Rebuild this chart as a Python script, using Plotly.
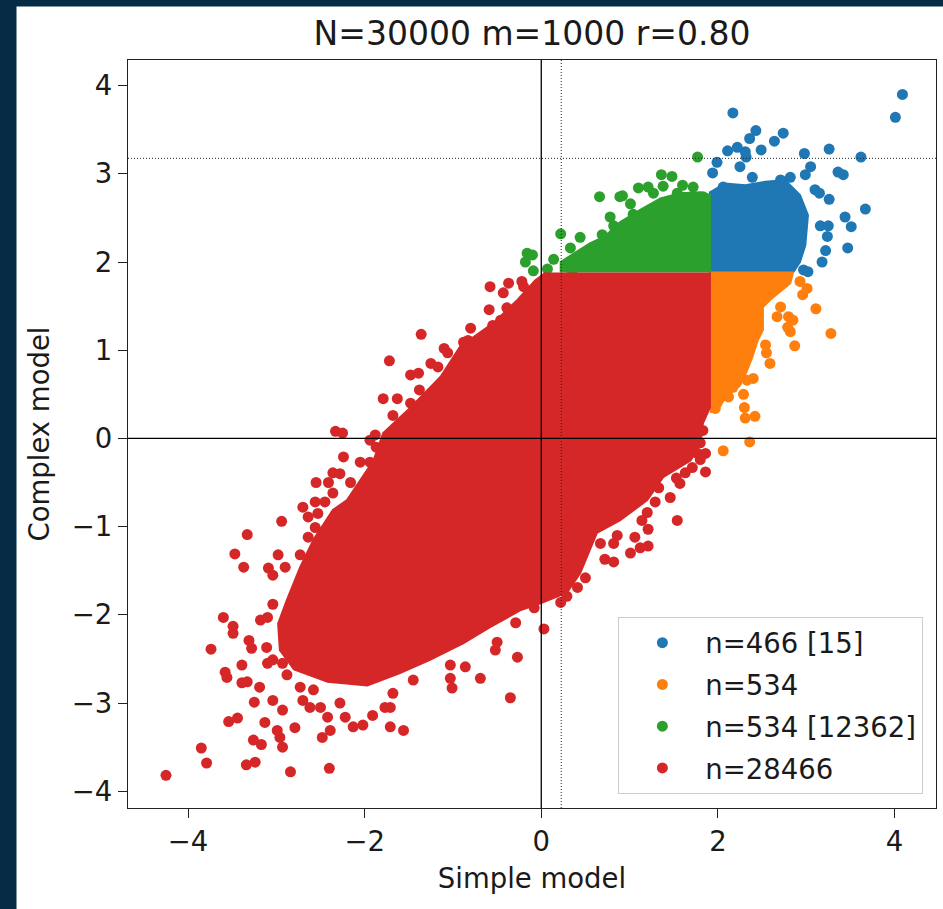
import plotly.graph_objects as go

# ---------------- data ----------------
title_text = "N=30000 m=1000 r=0.80"
x_label = "Simple model"
y_label = "Complex model"
legend_labels = ["n=466 [15]", "n=534", "n=534 [12362]", "n=28466"]
colors = ["#1f77b4", "#ff7f0e", "#2ca02c", "#d62728"]
x_threshold = 1.91
y_threshold = 1.88
x_dotted = 0.226
y_dotted = 3.175
x_ticks = [-4, -2, 0, 2, 4]
y_ticks = [-4, -3, -2, -1, 0, 1, 2, 3, 4]

# dense cores of each group (outline of the solid mass of points)
blue_core_x = [1.91, 1.91, 2.08, 2.31, 2.54, 2.76, 2.93, 3.02, 2.99, 2.93, 2.85]
blue_core_y = [1.88, 2.79, 2.89, 2.87, 2.91, 2.93, 2.76, 2.53, 2.19, 2.00, 1.88]

orange_core_x = [1.91, 2.85, 2.82, 2.59, 2.51, 2.51, 2.45, 2.39, 2.31, 2.25, 2.11, 2.03, 1.99, 1.91]
orange_core_y = [1.88, 1.88, 1.76, 1.57, 1.49, 1.23, 1.11, 0.92, 0.72, 0.60, 0.49, 0.38, 0.30, 0.30]

green_core_x = [0.22, 0.22, 0.39, 0.55, 0.72, 0.89, 1.12, 1.35, 1.57, 1.80, 1.91, 1.91]
green_core_y = [1.88, 2.00, 2.11, 2.21, 2.29, 2.45, 2.59, 2.72, 2.78, 2.79, 2.76, 1.88]

red_core_x = [1.91, 1.91, 1.83, 1.80, 1.69, 1.38, 1.20, 0.89, 0.63, 0.44, 0.29, -0.01,
              -0.24, -0.58, -0.88, -1.26, -1.60, -1.97, -2.42, -2.80, -2.96, -2.98,
              -2.88, -2.73, -2.58, -2.36, -2.20, -1.90, -1.79, -1.48, -1.14, -0.92, -0.54,
              -0.27, -0.07, 0.05]
red_core_y = [1.88, 0.35, 0.17, -0.08, -0.25, -0.44, -0.70, -0.93, -1.07, -1.53, -1.75, -1.87,
              -1.95, -2.14, -2.32, -2.51, -2.66, -2.80, -2.76, -2.62, -2.40, -2.10,
              -1.83, -1.46, -1.15, -0.81, -0.70, -0.25, 0.06, 0.35, 0.70, 1.04, 1.31,
              1.57, 1.79, 1.88]

# individual points outside the dense cores
blue_x = [4.09, 4.01, 2.17, 2.43, 2.36, 2.64, 2.74, 2.22, 2.31, 2.32, 2.11, 2.49, 2.98, 3.26,
          3.62, 1.99, 3.05, 2.99, 2.25, 2.39, 3.36, 3.42, 3.26, 3.67, 3.44, 3.51, 3.47, 3.24,
          3.16, 3.25, 3.22, 3.18, 3.10, 3.15, 2.97, 3.02, 1.94, 2.06, 2.82, 2.71]
blue_y = [3.90, 3.64, 3.69, 3.49, 3.40, 3.37, 3.46, 3.30, 3.25, 3.19, 3.26, 3.27, 3.23, 3.28,
          3.19, 3.13, 3.08, 2.99, 3.08, 2.96, 3.02, 2.99, 2.71, 2.60, 2.51, 2.40, 2.16, 2.29,
          2.41, 2.41, 2.13, 2.00, 2.82, 2.78, 1.91, 1.89, 3.01, 2.85, 2.96, 2.93]

orange_x = [3.11, 3.28, 2.87, 2.93, 3.01, 2.96, 2.80, 2.79, 2.82, 2.67, 2.54, 2.55, 2.59, 2.40,
            2.33, 2.29, 2.30, 2.31, 2.42, 2.06, 2.36, 2.12, 2.17, 1.97, 1.99, 2.71, 2.85]
orange_y = [1.47, 1.19, 1.05, 1.78, 1.70, 1.63, 1.38, 1.26, 1.21, 1.38, 1.06, 0.97, 0.85, 0.68,
            0.66, 0.50, 0.35, 0.23, 0.25, -0.14, -0.04, 0.47, 0.58, 0.34, 0.40, 1.49, 1.34]

green_x = [1.77, 1.36, 1.48, 1.10, 1.21, 1.38, 1.60, 1.72, 0.92, 1.01, 1.04, 1.27, 1.54, 1.83,
           0.22, 0.66, 0.89, 0.78, 0.82, 0.44, 0.69, 0.33, -0.18, -0.10, 0.14, -0.09, 0.07,
           0.35, -0.16]
green_y = [3.19, 2.99, 2.97, 2.84, 2.85, 2.86, 2.87, 2.85, 2.75, 2.66, 2.54, 2.78, 2.78, 2.74,
           2.32, 2.74, 2.74, 2.51, 2.41, 2.28, 2.31, 2.16, 2.00, 2.08, 2.03, 1.90, 1.92,
           1.89, 2.10]

red_x = [-2.94, -3.33, -3.47, -3.37, -3.09, -3.04, -2.98, -2.90, -3.04, -3.60, -3.49, -3.49,
         -3.74, -3.31, -3.28, -3.18, -3.10, -3.11, -3.39, -3.58, -3.56, -3.39, -3.33, -3.19,
         -3.25, -3.04, -3.54, -3.44, -3.13, -3.26, -3.17, -2.93, -3.85, -3.79, -3.34, -3.24,
         -2.84, -2.40, -4.25, -2.99, -2.96, -2.79, -2.93, -2.70, -2.62, -2.50, -2.48, -2.39,
         -2.42, -2.22, -2.13, -2.02, -1.91, -1.71, -1.77, -2.28, -2.88, -2.73, -2.58, -3.10,
         -3.04, -2.93, -1.68, -1.71, -1.56,
         -1.72, -1.79, -1.63, -1.68, -2.33, -2.25, -1.88, -1.94, -1.87, -1.73, -2.24, -2.05,
         -1.94, -2.55, -2.36, -2.28, -2.41, -2.16, -2.36, -2.56, -2.45, -2.70, -2.64, -2.53,
         -2.64, -2.56, -2.33, -2.73,
         -0.58, -0.37, -0.43, -0.22, -0.20, -0.59, -0.80, -1.36, -1.10, -1.06, -0.88, -0.83,
         -0.67, -1.48, -1.39, -1.25, -1.17, -1.38, -1.22, -1.48, -0.55, -0.39, -0.46,
         1.86, 1.54, 1.46, 1.33, 1.29, 1.20, 1.14, 1.21, 1.06, 1.21, 1.12, 1.01, 0.82, 0.72,
         0.67, 0.82, 0.86, 0.50, 0.41, 0.29, 0.22, 0.03, -0.08, -0.29, -0.27, -0.50, -0.52,
         -0.69, -0.35, -0.86, -1.03, -1.03, -1.01, -1.40, -1.45, 1.71, 1.63, 1.53, 1.57, 1.77,
         1.83, 1.80, 1.86, 1.80]
red_y = [-0.94, -1.09, -1.31, -1.46, -1.47, -1.55, -1.32, -1.46, -1.88, -2.03, -2.13, -2.21,
         -2.39, -2.29, -2.38, -2.06, -2.03, -2.37, -2.57, -2.65, -2.71, -2.77, -2.76, -2.82,
         -2.99, -2.97, -3.21, -3.17, -3.22, -3.42, -3.47, -3.50, -3.51, -3.68, -3.70, -3.67,
         -3.78, -3.74, -3.82, -3.31, -3.39, -3.28, -3.08, -2.97, -3.05, -3.05, -3.39, -3.31,
         -3.16, -3.16, -3.27, -3.25, -3.14, -3.27, -3.05, -3.00, -2.68, -2.82, -2.85, -2.55,
         -2.51, -2.55, -2.89, -3.05, -3.31,
         0.88, 0.45, 0.45, 0.26, 0.08, 0.06, 0.04, -0.02, -0.10, 0.00, -0.21, -0.27,
         -0.27, -0.50, -0.39, -0.40, -0.50, -0.50, -0.62, -0.72, -0.72, -0.78, -0.89, -0.85,
         -1.12, -1.01, -1.01, -1.32,
         1.72, 1.76, 1.65, 1.78, 1.72, 1.46, 1.25, 1.18, 1.02, 0.97, 1.09, 1.11,
         1.10, 0.72, 0.74, 0.85, 0.81, 0.55, 0.54, 0.40, 1.28, 1.48, 1.34,
         -0.38, -0.93, -0.67, -0.56, -0.72, -0.84, -0.93, -1.03, -1.12, -1.22, -1.24, -1.30,
         -1.40, -1.37, -1.19, -1.19, -1.10, -1.58, -1.69, -1.79, -1.86, -2.16, -1.92, -2.09,
         -2.48, -2.31, -2.40, -2.72, -2.94, -2.59, -2.57, -2.72, -2.83, -2.51, -2.74, -0.33,
         -0.39, -0.45, -0.51, -0.17, 0.09, -0.05, -0.17, -0.24]

# ---------------- figure ----------------
FONT = "DejaVu Sans"
MS = 11
TXT = "#1a1a1a"

groups = [
    (blue_core_x, blue_core_y, blue_x, blue_y),
    (orange_core_x, orange_core_y, orange_x, orange_y),
    (green_core_x, green_core_y, green_x, green_y),
    (red_core_x, red_core_y, red_x, red_y),
]

fig = go.Figure()
for i, (cx, cy, px, py) in enumerate(groups):
    fig.add_trace(go.Scatter(
        x=cx, y=cy, mode="lines", fill="toself", fillcolor=colors[i],
        line=dict(color=colors[i], width=2), hoverinfo="skip",
        showlegend=False, legendgroup=f"g{i}"))
    fig.add_trace(go.Scatter(
        x=px, y=py, mode="markers", name=legend_labels[i], legendgroup=f"g{i}",
        marker=dict(color=colors[i], size=MS, line=dict(width=0))))

# reference lines (drawn above the points)
line_shapes = [
    dict(type="line", xref="paper", yref="y", x0=0, x1=1, y0=0, y1=0,
         line=dict(color="black", width=1.3), layer="above"),
    dict(type="line", xref="x", yref="paper", x0=0, x1=0, y0=0, y1=1,
         line=dict(color="black", width=1.3), layer="above"),
    dict(type="line", xref="paper", yref="y", x0=0, x1=1, y0=y_dotted, y1=y_dotted,
         line=dict(color="#222222", width=1, dash="1px,2px"), layer="above"),
    dict(type="line", xref="x", yref="paper", x0=x_dotted, x1=x_dotted, y0=0, y1=1,
         line=dict(color="#222222", width=1, dash="1px,2px"), layer="above"),
]
# dark page border (left and top)
W, H = 943, 909
L, R, T, B = 128, 7, 60, 101
pw, ph = W - L - R, H - T - B
navy = "#052b45"
border_shapes = [
    dict(type="rect", xref="paper", yref="paper", x0=-L / pw, x1=(16.5 - L) / pw,
         y0=-B / ph, y1=(H - B) / ph, fillcolor=navy, line=dict(width=0), layer="below"),
    dict(type="rect", xref="paper", yref="paper", x0=-L / pw, x1=(W - L) / pw,
         y0=(H - B - 6.5) / ph, y1=(H - B) / ph, fillcolor=navy, line=dict(width=0), layer="below"),
]

axis_common = dict(
    showgrid=False, zeroline=False, showline=True, mirror=True, automargin=False,
    linecolor="#222222", linewidth=1.3, ticks="outside", ticklen=9, tickwidth=1.3,
    tickcolor="#222222", tickfont=dict(family=FONT, size=27.5, color=TXT),
)

fig.update_layout(
    width=W, height=H,
    margin=dict(l=L, r=R, t=T, b=B, autoexpand=False),
    paper_bgcolor="white", plot_bgcolor="white",
    font=dict(family=FONT, color=TXT),
    title=dict(text=title_text, x=532 / W, xanchor="center", xref="container",
               y=1 - 33 / H, yanchor="middle", yref="container",
               font=dict(family=FONT, size=33, color=TXT)),
    xaxis=dict(range=[-4.68, 4.47], tickvals=x_ticks,
               ticktext=[str(v).replace("-", "\u2212") for v in x_ticks],
               title=dict(text=x_label, font=dict(family=FONT, size=27.5, color=TXT),
                          standoff=12),
               **axis_common),
    yaxis=dict(range=[-4.19, 4.29], tickvals=y_ticks,
               ticktext=[str(v).replace("-", "\u2212") for v in y_ticks],
               title=dict(text=y_label, font=dict(family=FONT, size=27.5, color=TXT),
                          standoff=14),
               **axis_common),
    legend=dict(x=0.984, xanchor="right", y=0.0187, yanchor="bottom",
                bgcolor="rgba(255,255,255,0.85)", bordercolor="#cccccc", borderwidth=1.3,
                font=dict(family=FONT, size=27.5, color=TXT),
                tracegroupgap=3, itemwidth=76),
    shapes=border_shapes + line_shapes,
    showlegend=True,
)

fig.write_html("out.html", config={"displayModeBar": False},
               post_script="document.body.style.margin='0px';document.body.style.overflow='hidden';")
